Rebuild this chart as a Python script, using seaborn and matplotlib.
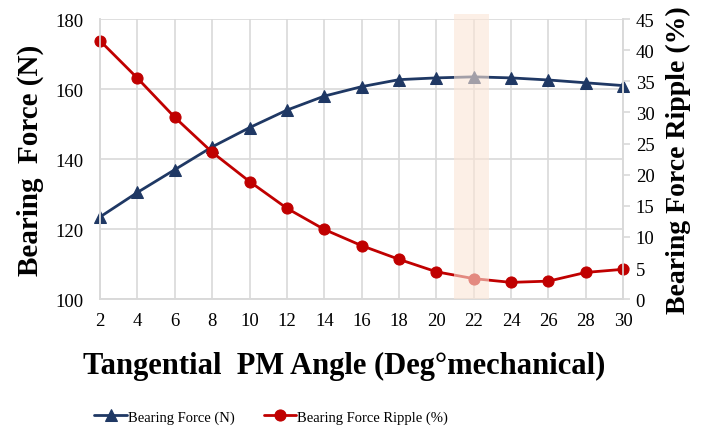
import matplotlib
matplotlib.use('Agg')
import matplotlib.pyplot as plt
import seaborn as sns
import pandas as pd

angle = [2, 4, 6, 8, 10, 12, 14, 16, 18, 20, 22, 24, 26, 28, 30]
bearing_force = [123.5, 130.5, 137.0, 143.5, 149.0, 154.0, 158.0, 160.7, 162.7, 163.2, 163.5, 163.2, 162.6, 161.8, 161.0]
force_ripple = [41.5, 35.5, 29.2, 23.6, 18.9, 14.6, 11.2, 8.6, 6.4, 4.4, 3.3, 2.7, 2.9, 4.3, 4.8]

df = pd.DataFrame({'angle': angle, 'force': bearing_force, 'ripple': force_ripple})

sns.set_style('white')
plt.rcParams['font.family'] = ['Liberation Serif', 'DejaVu Serif']
plt.rcParams['text.color'] = 'black'
plt.rcParams['axes.labelcolor'] = 'black'

navy = '#1F3864'
red = '#C00000'
grid_c = '#D9D9D9'

fig, ax = plt.subplots(figsize=(7.05, 4.27), dpi=100)
fig.subplots_adjust(left=0.142, right=0.884, top=0.953, bottom=0.297)
ax2 = ax.twinx()

sns.lineplot(data=df, x='angle', y='force', ax=ax, color=navy, marker='^',
             markersize=8, markeredgecolor=navy, linewidth=2, label='Bearing Force (N)',
             legend=False, clip_on=False)
sns.lineplot(data=df, x='angle', y='ripple', ax=ax2, color=red, marker='o',
             markersize=8, markeredgecolor=red, linewidth=2, label='Bearing Force Ripple (%)',
             legend=False, clip_on=False)

ax.set_xlim(2, 30)
ax.set_ylim(100, 180)
ax.set_xticks(angle)
ax.set_yticks(range(100, 181, 20))
ax2.set_ylim(0, 45)
ax2.set_yticks(range(0, 46, 5))

ax.grid(True, color=grid_c, linewidth=1.2)
ax.set_axisbelow(True)
for a in (ax, ax2):
    for s in a.spines.values():
        s.set_color(grid_c)
        s.set_linewidth(1.2)
    a.tick_params(labelsize=13.5, colors='black')
ax.spines['top'].set_visible(False)
ax2.spines['top'].set_visible(False)
ax.tick_params(axis='y', length=0, pad=12)
ax.tick_params(axis='x', length=0, pad=9)
ax2.tick_params(axis='y', length=5, width=1.2, color=grid_c, labelcolor='black', pad=4)

ax.set_xlabel('Tangential  PM Angle (Deg°mechanical)', fontsize=22, fontweight='bold')
ax.xaxis.set_label_coords(0.466, -0.185)
ax.set_ylabel('Bearing  Force (N)', fontsize=21, fontweight='bold', labelpad=8)
ax2.set_ylabel('Bearing Force Ripple (%)', fontsize=20, fontweight='bold', labelpad=8)

# highlighted region around 22 deg
ax2.axvspan(20.95, 22.8, ymin=0, ymax=1.018, color='#FBE5D6', alpha=0.6, zorder=5, clip_on=False, linewidth=0)

h1, l1 = ax.get_legend_handles_labels()
h2, l2 = ax2.get_legend_handles_labels()
fig.legend(h1 + h2, l1 + l2, loc='lower center', ncol=2, frameon=False,
           fontsize=10.5, bbox_to_anchor=(0.385, -0.025), handlelength=2.2, handletextpad=0.1,
           columnspacing=2.0)

fig.savefig('out.png', dpi=100)
